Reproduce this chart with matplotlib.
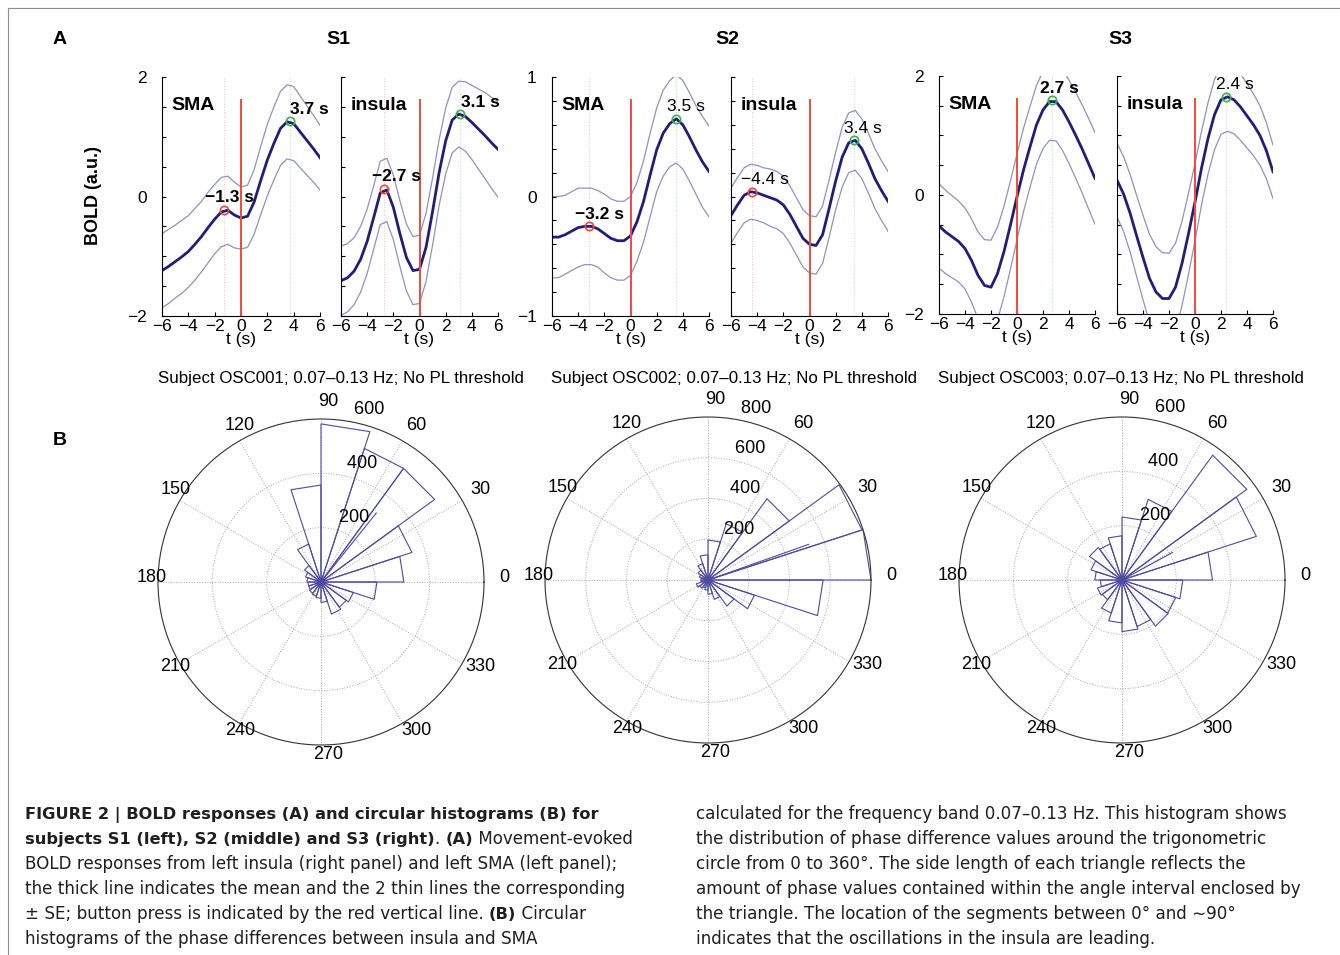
import numpy as np
import matplotlib.pyplot as plt

plt.rcParams['font.family'] = ['Liberation Sans', 'DejaVu Sans']

W, H = 1340, 955

# ---- part A: BOLD responses, sampled every 0.5 s from -6 to 6 s
t = np.linspace(-6, 6, 25)

s1_sma_mean = [-1.24, -1.17, -1.09, -1.01, -0.92, -0.80, -0.67, -0.52, -0.38, -0.26, -0.23, -0.31, -0.36,
               -0.33, -0.09, 0.27, 0.61, 0.89, 1.14, 1.25, 1.22, 1.08, 0.94, 0.80, 0.65]
s1_sma_se = [0.62, 0.62, 0.61, 0.61, 0.60, 0.60, 0.59, 0.59, 0.58, 0.58, 0.57, 0.55, 0.52,
             0.52, 0.54, 0.57, 0.60, 0.61, 0.62, 0.62, 0.62, 0.60, 0.58, 0.56, 0.54]
s1_ins_mean = [-1.41, -1.36, -1.25, -1.05, -0.75, -0.35, 0.06, 0.11, -0.18, -0.62, -1.02, -1.24, -1.22,
               -0.85, -0.25, 0.40, 0.93, 1.28, 1.38, 1.34, 1.24, 1.13, 1.02, 0.90, 0.79]
s1_ins_se = [0.58, 0.57, 0.56, 0.55, 0.54, 0.53, 0.53, 0.53, 0.54, 0.55, 0.56, 0.57, 0.57,
             0.57, 0.56, 0.55, 0.55, 0.55, 0.55, 0.58, 0.62, 0.67, 0.72, 0.76, 0.80]
s2_sma_mean = [-0.34, -0.34, -0.32, -0.29, -0.26, -0.25, -0.25, -0.27, -0.31, -0.35, -0.37, -0.37, -0.33,
               -0.21, -0.04, 0.18, 0.39, 0.53, 0.61, 0.65, 0.60, 0.50, 0.39, 0.29, 0.21]
s2_sma_se = [0.34, 0.34, 0.33, 0.33, 0.33, 0.32, 0.32, 0.32, 0.33, 0.33, 0.33, 0.33, 0.33,
             0.33, 0.34, 0.35, 0.35, 0.36, 0.36, 0.37, 0.37, 0.37, 0.37, 0.38, 0.38]
s2_ins_mean = [-0.16, -0.07, 0.01, 0.04, 0.03, 0.01, -0.01, -0.03, -0.07, -0.15, -0.25, -0.35, -0.40,
               -0.41, -0.32, -0.10, 0.13, 0.33, 0.45, 0.47, 0.40, 0.28, 0.15, 0.05, -0.04]
s2_ins_se = [0.23, 0.23, 0.23, 0.23, 0.23, 0.23, 0.24, 0.24, 0.24, 0.24, 0.24, 0.24, 0.24,
             0.24, 0.24, 0.24, 0.24, 0.25, 0.25, 0.25, 0.25, 0.25, 0.25, 0.25, 0.25]
s3_sma_mean = [-0.52, -0.62, -0.70, -0.78, -0.90, -1.10, -1.35, -1.52, -1.55, -1.32, -0.95, -0.50, -0.03,
               0.42, 0.81, 1.18, 1.43, 1.57, 1.57, 1.43, 1.23, 1.01, 0.78, 0.53, 0.28]
s3_sma_se = [0.71, 0.70, 0.69, 0.68, 0.68, 0.70, 0.73, 0.77, 0.79, 0.78, 0.76, 0.74, 0.72,
             0.70, 0.68, 0.66, 0.65, 0.65, 0.66, 0.68, 0.70, 0.72, 0.74, 0.76, 0.77]
s3_ins_mean = [0.25, 0.02, -0.30, -0.68, -1.05, -1.40, -1.63, -1.74, -1.74, -1.55, -1.15, -0.65, -0.12,
               0.45, 0.95, 1.35, 1.60, 1.65, 1.60, 1.48, 1.33, 1.18, 1.00, 0.74, 0.39]
s3_ins_se = [0.62, 0.63, 0.65, 0.68, 0.71, 0.74, 0.76, 0.77, 0.76, 0.74, 0.71, 0.68, 0.65,
             0.62, 0.60, 0.59, 0.58, 0.58, 0.57, 0.56, 0.54, 0.52, 0.50, 0.47, 0.45]

# peaks (time, value); red = before the button press, green = after
s1_sma_peaks = [(-1.3, -0.22), (3.7, 1.26)]
s1_ins_peaks = [(-2.7, 0.13), (3.1, 1.38)]
s2_sma_peaks = [(-3.2, -0.25), (3.5, 0.65)]
s2_ins_peaks = [(-4.4, 0.04), (3.4, 0.47)]
s3_sma_peaks = [(2.7, 1.59)]
s3_ins_peaks = [(2.4, 1.65)]

# ---- part B: rose histograms, 20 bins of 18 degrees
bin_edges = np.arange(0, 361, 18)
s1_counts = [305, 352, 517, 517, 582, 357, 147, 75, 60, 52, 48, 48, 52, 55, 60, 75, 124, 115, 125, 206]
s2_counts = [800, 795, 493, 290, 196, 124, 85, 60, 45, 35, 35, 60, 50, 40, 50, 70, 100, 158, 240, 565]
s3_counts = [333, 520, 568, 312, 232, 163, 140, 148, 120, 100, 80, 95, 90, 128, 158, 190, 180, 210, 208, 224]
# mean phase direction (deg) and length
s1_mean_dir = (51.3, 325)
s2_mean_dir = (19.5, 524)
s3_mean_dir = (28.6, 212)

mean_col = '#211d78'
se_col = '#9090c8'
red = '#ef4b3c'
green = '#3fb04a'
rose_col = '#4f4aa0'

fig = plt.figure(figsize=(W / 100, H / 100), dpi=100)


def fx(x):
    return x / W


def fy(y):
    return 1 - y / H


def line_panel(left, top, right, bottom, mean, se, ylim, ystep, ylab, peaks, cols, bold, dxs, name):
    ax = fig.add_axes([fx(left), fy(bottom), (right - left) / W, (bottom - top) / H])
    mean = np.array(mean)
    se = np.array(se)
    ax.plot(t, mean + se, color=se_col, lw=0.9)
    ax.plot(t, mean - se, color=se_col, lw=0.9)
    ax.plot(t, mean, color=mean_col, lw=2.0)
    ax.axvline(0, ymax=0.905, color=red, lw=1.4)
    for (pt, pv), c, b, dx in zip(peaks, cols, bold, dxs):
        ax.axvline(pt, color=c, lw=0.7, ls=':', alpha=0.35)
        ax.plot(pt, pv, 'o', mfc='none', mec=c, ms=6, mew=1.2)
        lab = f'{pt:.1f} s'.replace('-', '\u2212')
        ax.annotate(lab, (pt, pv), xytext=(dx, 12), textcoords='offset pixels',
                    ha='center', va='center', fontsize=12.5,
                    fontweight='bold' if b else 'normal')
    ax.text(0.06, 0.88, name, transform=ax.transAxes, ha='left', va='center',
            fontsize=14, fontweight='bold')
    ax.set_xlim(-6, 6)
    ax.set_ylim(*ylim)
    ax.set_xticks(np.arange(-6, 7, 2))
    yt = np.round(np.arange(ylim[0], ylim[1] + 1e-9, ystep), 6) + 0.0
    ax.set_yticks(yt)
    labs = []
    for v in yt:
        if ylab and any(abs(v - q) < 1e-9 for q in ylab):
            labs.append(f'{v:g}'.replace('-', '\u2212'))
        else:
            labs.append('')
    ax.set_yticklabels(labs)
    ax.tick_params(direction='in', length=3, labelsize=12.5)
    ax.tick_params(axis='x', pad=2)
    ax.tick_params(axis='y', pad=11)
    ax.spines['top'].set_visible(False)
    ax.spines['right'].set_visible(False)
    ax.set_xlabel('t (s)', fontsize=12.5, labelpad=-1)
    return ax


line_panel(162, 77, 320, 316, s1_sma_mean, s1_sma_se, (-2, 2), 0.5, [-2, 0, 2],
           s1_sma_peaks, [red, green], [True, True], [6, 20], 'SMA')
line_panel(341, 77, 498, 316, s1_ins_mean, s1_ins_se, (-2, 2), 0.5, None,
           s1_ins_peaks, [red, green], [True, True], [12, 20], 'insula')
line_panel(552, 77, 709, 316, s2_sma_mean, s2_sma_se, (-1, 1), 0.2, [-1, 0, 1],
           s2_sma_peaks, [red, green], [True, False], [11, 10], 'SMA')
line_panel(731, 77, 888, 316, s2_ins_mean, s2_ins_se, (-1, 1), 0.2, None,
           s2_ins_peaks, [red, green], [False, False], [13, 9], 'insula')
line_panel(939, 76, 1095, 314, s3_sma_mean, s3_sma_se, (-2, 2), 0.5, [-2, 0, 2],
           s3_sma_peaks, [green], [True], [7], 'SMA')
line_panel(1117, 76, 1273, 314, s3_ins_mean, s3_ins_se, (-2, 2), 0.5, None,
           s3_ins_peaks, [green], [False], [9], 'insula')

fig.text(fx(60), fy(40), 'A', fontsize=14, fontweight='bold', ha='center', va='center')
fig.text(fx(60), fy(440), 'B', fontsize=14, fontweight='bold', ha='center', va='center')
for x, s in [(338, 'S1'), (727, 'S2'), (1120, 'S3')]:
    fig.text(fx(x), fy(40), s, fontsize=14, fontweight='bold', ha='center', va='center')
fig.text(fx(93), fy(195), 'BOLD (a.u.)', fontsize=13, fontweight='bold', rotation=90,
         ha='center', va='center')


def rose_panel(cx, cy, rad, counts, rmax, rings, mean_dir, title, title_x):
    ax = fig.add_axes([fx(cx - rad), fy(cy + rad), 2 * rad / W, 2 * rad / H], projection='polar')
    ed = np.deg2rad(bin_edges)
    for k, c in enumerate(counts):
        ax.plot([0, ed[k], ed[k + 1], 0], [0, c, c, 0], color=rose_col, lw=0.8)
    ax.plot([0, np.deg2rad(mean_dir[0])], [0, mean_dir[1]], color=rose_col, lw=0.8)
    ax.set_ylim(0, rmax)
    ax.set_rgrids([r for r in rings if r < rmax], labels=[])
    ax.set_thetagrids(np.arange(0, 360, 30), labels=[])
    ax.grid(True, ls=':', color='0.65', lw=0.7)
    ax.spines['polar'].set_color('0.2')
    ax.spines['polar'].set_linewidth(0.8)
    for a in range(0, 360, 30):
        ax.annotate(str(a), (np.deg2rad(a), 1.08 * rmax), xytext=(7, 4), textcoords='offset pixels',
                    ha='center', va='center', fontsize=13, annotation_clip=False)
    rinc = rings[1] - rings[0]
    for r in rings:
        ax.text(np.deg2rad(82), r + rinc / 20, '  ' + str(r), ha='left', va='bottom', fontsize=13)
    fig.text(fx(title_x), fy(378), title, ha='center', va='center', fontsize=12.2)


rose_panel(321, 582, 163, s1_counts, 600, [200, 400, 600], s1_mean_dir,
           'Subject OSC001; 0.07\u20130.13 Hz; No PL threshold', 341)
rose_panel(708, 580, 163, s2_counts, 800, [200, 400, 600, 800], s2_mean_dir,
           'Subject OSC002; 0.07\u20130.13 Hz; No PL threshold', 734)
rose_panel(1122, 580, 163, s3_counts, 600, [200, 400, 600], s3_mean_dir,
           'Subject OSC003; 0.07\u20130.13 Hz; No PL threshold', 1121)

# ---- caption
cap = fig.add_axes([0, 0, 1, 1])
cap.axis('off')
cap.set_zorder(-1)
cap.set_xlim(0, W)
cap.set_ylim(H, 0)
# frame lines of the figure panel
cap.plot([8, W], [8, 8], color='0.55', lw=0.8)
cap.plot([8, 8], [8, H], color='0.55', lw=0.8)

left_col = [
    [('FIGURE 2 | BOLD responses (A) and circular histograms (B) for', True)],
    [('subjects S1 (left), S2 (middle) and S3 (right)', True), ('. ', False), ('(A)', True),
     (' Movement-evoked', False)],
    [('BOLD responses from left insula (right panel) and left SMA (left panel);', False)],
    [('the thick line indicates the mean and the 2 thin lines the corresponding', False)],
    [('\u00b1 SE; button press is indicated by the red vertical line. ', False), ('(B)', True),
     (' Circular', False)],
    [('histograms of the phase differences between insula and SMA', False)],
]
right_col = [
    [('calculated for the frequency band 0.07\u20130.13 Hz. This histogram shows', False)],
    [('the distribution of phase difference values around the trigonometric', False)],
    [('circle from 0 to 360\u00b0. The side length of each triangle reflects the', False)],
    [('amount of phase values contained within the angle interval enclosed by', False)],
    [('the triangle. The location of the segments between 0\u00b0 and \u223c90\u00b0', False)],
    [('indicates that the oscillations in the insula are leading.', False)],
]

renderer = fig.canvas.get_renderer()


def caption(x0, y0, lines):
    for i, parts in enumerate(lines):
        x = x0
        y = y0 + 25 * i
        for txt, b in parts:
            tt = cap.text(x, y, txt, fontsize=11.7 if b else 12.1,
                          fontweight='bold' if b else 'normal', color='0.12',
                          ha='left', va='baseline', family=['DejaVu Sans'])
            bb = tt.get_window_extent(renderer)
            x = cap.transData.inverted().transform((bb.x1, bb.y0))[0]


caption(25, 819, left_col)
caption(696, 819, right_col)

fig.savefig('out.png', dpi=100)
